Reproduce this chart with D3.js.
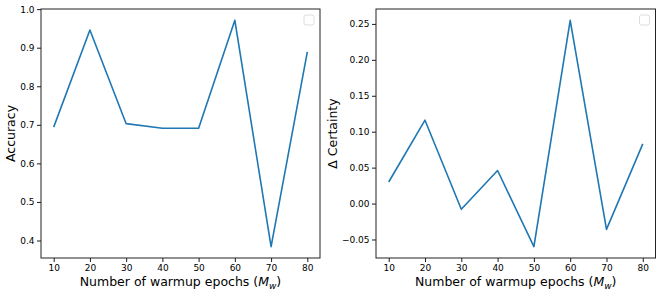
<!DOCTYPE html>
<html>
<head>
<meta charset="utf-8">
<script src="https://cdn.jsdelivr.net/npm/d3@7"></script>
<style>
  body { margin: 0; background: #fff; }
  text { font-family: "DejaVu Sans", sans-serif; }
</style>
</head>
<body>
<svg id="chart" width="664" height="292"></svg>
<script>
// data
const epochs = [10, 20, 30, 40, 50, 60, 70, 80];
const accuracy = [0.694, 0.946, 0.703, 0.691, 0.691, 0.971, 0.384, 0.889];
const certainty = [0.030, 0.116, -0.008, 0.046, -0.060, 0.255, -0.036, 0.083];
const accTicks = [0.4, 0.5, 0.6, 0.7, 0.8, 0.9, 1.0];
const certTicks = [-0.05, 0, 0.05, 0.10, 0.15, 0.20, 0.25];

const svg = d3.select("#chart");

// matplotlib-like 5% margins around the data
function padded(ext) {
  const m = (ext[1] - ext[0]) * 0.05;
  return [ext[0] - m, ext[1] + m];
}

function panel(opts) {
  const { left, right, top, bottom, values, ticks, fmt, ylabel, ylabelX } = opts;

  const x = d3.scaleLinear().domain(padded(d3.extent(epochs))).range([left, right]);
  const y = d3.scaleLinear().domain(padded(d3.extent(values))).range([bottom, top]);

  const g = svg.append("g");

  // line
  g.append("path")
    .datum(epochs.map((e, i) => [e, values[i]]))
    .attr("fill", "none")
    .attr("stroke", "#1f77b4")
    .attr("stroke-width", 1.6)
    .attr("stroke-linejoin", "round")
    .attr("d", d3.line().x(d => x(d[0])).y(d => y(d[1])));

  // axes
  const xa = g.append("g")
    .attr("transform", `translate(0,${bottom})`)
    .call(d3.axisBottom(x).tickValues(epochs).tickSize(4).tickPadding(2.5).tickFormat(d3.format("d")));
  const ya = g.append("g")
    .attr("transform", `translate(${left},0)`)
    .call(d3.axisLeft(y).tickValues(ticks).tickSize(4).tickPadding(2.5).tickFormat(d3.format(fmt)));

  [xa, ya].forEach(a => {
    a.select(".domain").remove();
    a.selectAll("text").attr("font-size", 9).attr("fill", "#000").style("font-family", "DejaVu Sans");
    a.selectAll("line").attr("stroke", "#000").attr("stroke-width", 0.9);
  });

  // frame
  g.append("rect")
    .attr("x", left).attr("y", top)
    .attr("width", right - left).attr("height", bottom - top)
    .attr("fill", "none")
    .attr("stroke", "#222")
    .attr("stroke-width", 1);

  // empty legend box
  g.append("rect")
    .attr("x", right - 16).attr("y", top + 6)
    .attr("width", 10).attr("height", 10)
    .attr("rx", 2)
    .attr("fill", "#fff")
    .attr("stroke", "#d4d4d4")
    .attr("stroke-width", 0.8);

  // x label
  const xl = g.append("text")
    .attr("x", (left + right) / 2)
    .attr("y", 286)
    .attr("text-anchor", "middle")
    .attr("font-size", 12.5);
  xl.append("tspan").text("Number of warmup epochs (");
  xl.append("tspan").attr("font-style", "italic").text("M");
  xl.append("tspan").attr("font-style", "italic").attr("font-size", 9).attr("dy", 2.5).text("w");
  xl.append("tspan").attr("dy", -2.5).text(")");

  // y label
  g.append("text")
    .attr("transform", `translate(${ylabelX},${(top + bottom) / 2}) rotate(-90)`)
    .attr("text-anchor", "middle")
    .attr("font-size", 12.5)
    .text(ylabel);
}

panel({ left: 41, right: 320, top: 9, bottom: 258, values: accuracy, ticks: accTicks,
        fmt: ".1f", ylabel: "Accuracy", ylabelX: 15 });
panel({ left: 376, right: 655.5, top: 9, bottom: 258, values: certainty, ticks: certTicks,
        fmt: ".2f", ylabel: "Δ Certainty", ylabelX: 337 });
</script>
</body>
</html>
